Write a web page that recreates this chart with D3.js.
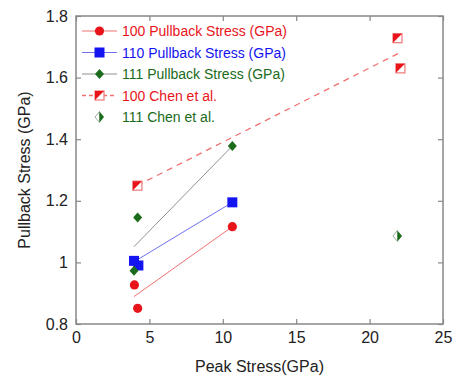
<!DOCTYPE html>
<html>
<head>
<meta charset="utf-8">
<script src="https://cdn.jsdelivr.net/npm/d3@7"></script>
<style>
  body { margin: 0; background: #fff; }
  text { font-family: "Liberation Sans", Arial, sans-serif; }
</style>
</head>
<body>
<div id="chart"></div>
<script>
// data
var pull100 = [[3.98, 0.927], [4.2, 0.851], [10.65, 1.116]];
var pull110 = [[3.95, 1.005], [4.25, 0.99], [10.65, 1.195]];
var pull111 = [[4.2, 1.146], [3.95, 0.973], [10.65, 1.378]];
var fit100 = [[3.95, 0.889], [10.65, 1.116]];
var fit110 = [[3.95, 1.002], [10.65, 1.195]];
var fit111 = [[3.95, 1.051], [10.65, 1.378]];
var chen100 = [[4.18, 1.249], [21.9, 1.728], [22.1, 1.63]];
var chenFit100 = [[4.18, 1.25], [22.1, 1.682]];
var chen111 = [[21.9, 1.086]];
var xTicks = [0, 5, 10, 15, 20, 25];
var yTicks = [0.8, 1, 1.2, 1.4, 1.6, 1.8];
var legendLabels = ["100 Pullback Stress (GPa)", "110 Pullback Stress (GPa)",
  "111 Pullback Stress (GPa)", "100 Chen et al.", "111 Chen et al."];

var width = 458, height = 384;
var margin = { top: 16, right: 15, bottom: 60, left: 76 };
var red = "#e8141a", blue = "#1414f0", green = "#1a6b1a";

var svg = d3.select("#chart").append("svg")
  .attr("width", width)
  .attr("height", height);

var x = d3.scaleLinear().domain([0, 25]).range([margin.left, width - margin.right]);
var y = d3.scaleLinear().domain([0.8, 1.8]).range([height - margin.bottom, margin.top]);

var axisColor = "#888";
var tickLen = 5;

function styleAxis(g) {
  g.select(".domain").remove();
  g.selectAll(".tick line").attr("stroke", axisColor).attr("stroke-width", 1.2);
  g.selectAll(".tick text").attr("fill", "#222").style("font-size", "16px");
}

svg.append("g")
  .attr("transform", "translate(0," + y(0.8) + ")")
  .call(d3.axisBottom(x).tickValues(xTicks).tickSize(-tickLen).tickPadding(8).tickFormat(d3.format("d")))
  .call(styleAxis);
svg.append("g")
  .attr("transform", "translate(0," + y(1.8) + ")")
  .call(d3.axisTop(x).tickValues(xTicks).tickSize(-tickLen).tickFormat(""))
  .call(styleAxis);
svg.append("g")
  .attr("transform", "translate(" + x(0) + ",0)")
  .call(d3.axisLeft(y).tickValues(yTicks).tickSize(-tickLen).tickPadding(8).tickFormat(function(d) { return d === 1 ? "1" : d3.format(".1f")(d); }))
  .call(styleAxis);
svg.append("g")
  .attr("transform", "translate(" + x(25) + ",0)")
  .call(d3.axisRight(y).tickValues(yTicks).tickSize(-tickLen).tickFormat(""))
  .call(styleAxis);

svg.append("rect")
  .attr("x", x(0)).attr("y", y(1.8))
  .attr("width", x(25) - x(0)).attr("height", y(0.8) - y(1.8))
  .attr("fill", "none").attr("stroke", axisColor).attr("stroke-width", 1.5);

// axis titles
svg.append("text")
  .attr("x", (x(0) + x(25)) / 2).attr("y", 372)
  .attr("text-anchor", "middle").style("font-size", "16px").attr("fill", "#222")
  .text("Peak Stress(GPa)");
svg.append("text")
  .attr("transform", "translate(30," + ((y(0.8) + y(1.8)) / 2) + ") rotate(-90)")
  .attr("text-anchor", "middle").style("font-size", "16px").attr("fill", "#222")
  .text("Pullback Stress (GPa)");

var line = d3.line().x(function(d) { return x(d[0]); }).y(function(d) { return y(d[1]); });

// fit lines
svg.append("path").datum(fit100).attr("d", line).attr("fill", "none").attr("stroke", "#f07070").attr("stroke-width", 1);
svg.append("path").datum(fit110).attr("d", line).attr("fill", "none").attr("stroke", "#7070f0").attr("stroke-width", 1);
svg.append("path").datum(fit111).attr("d", line).attr("fill", "none").attr("stroke", "#8a948a").attr("stroke-width", 1);
svg.append("path").datum(chenFit100).attr("d", line).attr("fill", "none").attr("stroke", "#f07070")
  .attr("stroke-width", 1.3).attr("stroke-dasharray", "6,5");

// marker drawing helpers
function circleMark(g, cx, cy) {
  g.append("circle").attr("cx", cx).attr("cy", cy).attr("r", 4.6).attr("fill", red);
}
function squareMark(g, cx, cy) {
  g.append("rect").attr("x", cx - 5).attr("y", cy - 5).attr("width", 10).attr("height", 10).attr("fill", blue);
}
function diamondMark(g, cx, cy) {
  var w = 4.5, h = 5;
  g.append("path")
    .attr("d", "M" + cx + "," + (cy - h) + "L" + (cx + w) + "," + cy + "L" + cx + "," + (cy + h) + "L" + (cx - w) + "," + cy + "Z")
    .attr("fill", green);
}
function halfSquareMark(g, cx, cy) {
  var s = 4.5;
  g.append("rect").attr("x", cx - s).attr("y", cy - s).attr("width", 2 * s).attr("height", 2 * s)
    .attr("fill", "#fff").attr("stroke", "#f08080").attr("stroke-width", 1.3);
  g.append("path")
    .attr("d", "M" + (cx - s) + "," + (cy - s) + "L" + (cx + s) + "," + (cy - s) + "L" + (cx - s) + "," + (cy + s) + "Z")
    .attr("fill", red);
}
function halfDiamondMark(g, cx, cy) {
  var w = 4.5, h = 5.5;
  g.append("path")
    .attr("d", "M" + cx + "," + (cy - h) + "L" + (cx - w) + "," + cy + "L" + cx + "," + (cy + h) + "Z")
    .attr("fill", "#fff").attr("stroke", "#9ab09a").attr("stroke-width", 1);
  g.append("path")
    .attr("d", "M" + cx + "," + (cy - h) + "L" + (cx + w) + "," + cy + "L" + cx + "," + (cy + h) + "Z")
    .attr("fill", green);
}

var marks = svg.append("g");
pull100.forEach(function(d) { circleMark(marks, x(d[0]), y(d[1])); });
pull110.forEach(function(d) { squareMark(marks, x(d[0]), y(d[1])); });
pull111.forEach(function(d) { diamondMark(marks, x(d[0]), y(d[1])); });
chen100.forEach(function(d) { halfSquareMark(marks, x(d[0]), y(d[1])); });
chen111.forEach(function(d) { halfDiamondMark(marks, x(d[0]), y(d[1])); });

// legend
var legendColors = [red, blue, green, red, green];
var legendLine = ["#f07070", "#7070f0", "#8a948a", "#f07070", null];
var legendMark = [circleMark, squareMark, diamondMark, halfSquareMark, halfDiamondMark];
var legend = svg.append("g");
legendLabels.forEach(function(lbl, i) {
  var ly = 31 + i * 21.5;
  if (legendLine[i]) {
    legend.append("line").attr("x1", 82).attr("x2", 117).attr("y1", ly).attr("y2", ly)
      .attr("stroke", legendLine[i]).attr("stroke-width", i === 3 ? 1.3 : 1)
      .attr("stroke-dasharray", i === 3 ? "4,3" : null);
  }
  legendMark[i](legend, 99.5, ly);
  legend.append("text").attr("x", 122).attr("y", ly + 5)
    .style("font-size", "14px").attr("fill", legendColors[i]).text(lbl);
});
</script>
</body>
</html>
